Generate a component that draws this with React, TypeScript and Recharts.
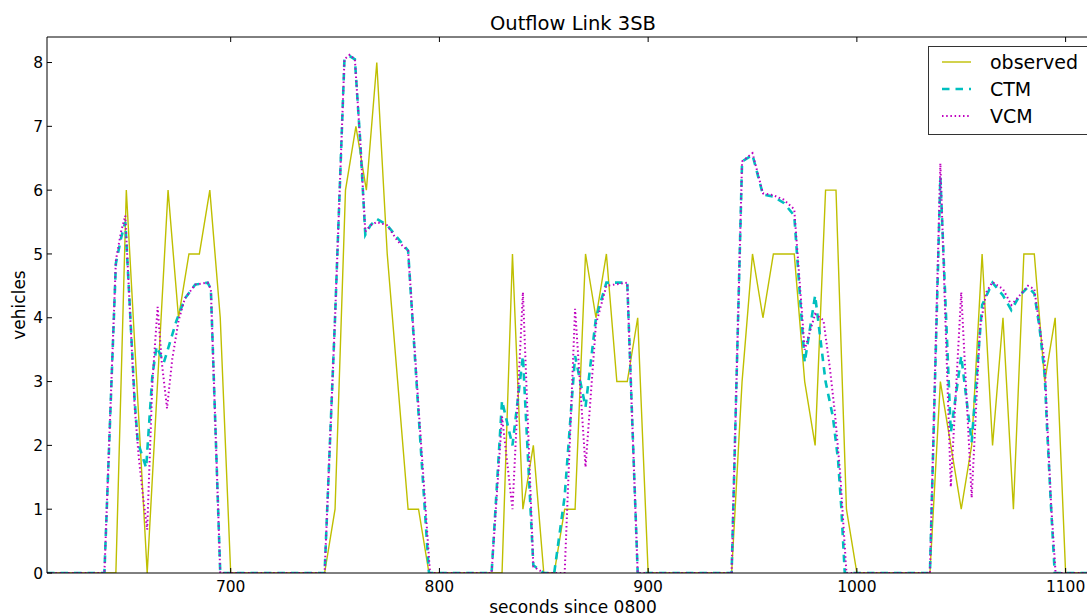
import React from 'react';
import { LineChart, Line, XAxis, YAxis } from 'recharts';

const FONT = '"DejaVu Sans", Verdana, sans-serif';
const X_DOMAIN = [612, 1116];
const xTicks = [700, 800, 900, 1000, 1100];
const yTicks = [0, 1, 2, 3, 4, 5, 6, 7, 8];

// observed counts, every 5 s
const observedT = [
  612, 645, 650, 655, 660, 665, 670, 675, 680, 685, 690, 695, 700,
  745, 750, 755, 760, 765, 770, 775, 780, 785, 790, 795,
  830, 835, 840, 845, 850, 855, 860, 865, 870, 875, 880, 885, 890, 895, 900,
  940, 945, 950, 955, 960, 965, 970, 975, 980, 985, 990, 995, 1000,
  1035, 1040, 1045, 1050, 1055, 1060, 1065, 1070, 1075, 1080, 1085, 1090, 1095, 1100,
  1116,
];
const observedV = [
  0, 0, 6, 3, 0, 3, 6, 4, 5, 5, 6, 4, 0,
  0, 1, 6, 7, 6, 8, 5, 3, 1, 1, 0,
  0, 5, 1, 2, 0, 0, 1, 1, 5, 4, 5, 3, 3, 4, 0,
  0, 3, 5, 4, 5, 5, 5, 3, 2, 6, 6, 1, 0,
  0, 3, 2, 1, 2, 5, 2, 4, 1, 5, 5, 3, 4, 0,
  0,
];

// CTM model
const ctmT = [
  612, 639.5, 645, 647.5, 649.5, 651, 654, 655.5, 658, 659.5, 662.5, 664.5, 668, 674, 678, 683, 689, 690.5, 695,
  745, 750, 754.5, 757, 759.5, 762, 764.5, 767, 770, 775, 780, 785, 790, 795,
  825, 830, 835, 840, 845, 850, 855, 860, 865, 870, 875, 880, 890, 895,
  940, 945, 950, 955, 960, 965, 970, 975, 980, 985, 988.5, 991, 992.5, 994.2,
  1035, 1040, 1045, 1050, 1055, 1060, 1065, 1070, 1074, 1078, 1082, 1085, 1087.5, 1090, 1091, 1093, 1094.8,
  1116,
];
const ctmV = [
  0, 0, 4.85, 5.25, 5.5, 4.6, 2.7, 2.05, 1.8, 1.65, 3.1, 3.55, 3.3, 3.95, 4.3, 4.52, 4.55, 4.45, 0,
  0, 4.0, 8.05, 8.1, 8.05, 6.8, 5.3, 5.45, 5.55, 5.45, 5.25, 5.05, 2.5, 0,
  0, 2.7, 2.0, 3.4, 0.12, 0, 0, 1.2, 3.4, 2.6, 4.0, 4.55, 4.55, 0,
  0, 6.45, 6.55, 5.93, 5.9, 5.8, 5.6, 3.3, 4.35, 3.0, 2.45, 1.77, 1.05, 0,
  0, 6.2, 2.2, 3.4, 2.05, 4.2, 4.55, 4.35, 4.12, 4.35, 4.48, 4.38, 3.85, 3.1, 2.35, 1.05, 0,
  0,
];

// VCM model
const vcmT = [
  612, 639.5, 645, 647.5, 649.5, 651, 654, 656, 658, 660, 662.5, 665, 667, 669.5, 672, 675, 678, 683, 689, 690.5, 695,
  745, 750, 754.5, 757, 759.5, 762, 764.5, 767, 770, 775, 780, 785, 790, 795.5,
  825, 830, 835, 840, 845, 850, 860, 865, 870, 875, 880, 890, 895,
  940, 945, 950, 955, 960, 965, 970, 975, 980, 984, 987, 989.5, 992, 993.5, 995,
  1035, 1040, 1045, 1050, 1055, 1059, 1062, 1065, 1070, 1074, 1078, 1082, 1085, 1090, 1091, 1093, 1095.2,
  1116,
];
const vcmV = [
  0, 0, 4.9, 5.35, 5.6, 4.6, 2.6, 1.8, 1.2, 0.68, 3.0, 4.17, 3.3, 2.58, 3.35, 3.95, 4.3, 4.52, 4.55, 4.45, 0,
  0, 4.0, 8.05, 8.12, 8.05, 6.8, 5.35, 5.45, 5.5, 5.45, 5.2, 5.05, 2.6, 0,
  0, 2.45, 1.0, 4.4, 0.1, 0, 0, 4.14, 1.66, 3.9, 4.5, 4.55, 0,
  0, 6.45, 6.58, 5.95, 5.92, 5.85, 5.7, 3.5, 4.06, 3.96, 3.23, 2.5, 1.56, 0.78, 0,
  0, 6.42, 1.35, 4.4, 1.18, 3.85, 4.4, 4.56, 4.45, 4.2, 4.35, 4.5, 4.45, 3.3, 2.5, 1.1, 0,
  0,
];

const zip = (ts: number[], vs: number[]) => ts.map((t, i) => ({ t, v: vs[i] }));

const observed = zip(observedT, observedV);
const ctm = zip(ctmT, ctmV);
const vcm = zip(vcmT, vcmV);

const OBS_COLOR = '#bfbf00';
const CTM_COLOR = '#00bfbf';
const VCM_COLOR = '#bf00bf';

const TICK_LEN = 5;

function BottomTick(props: any) {
  const { x, y, payload } = props;
  const axisY = y - 8;
  return (
    <g>
      <line x1={x} x2={x} y1={axisY} y2={axisY - TICK_LEN} stroke="#000" />
      <text x={x} y={y} dy="0.71em" textAnchor="middle" fontSize={15.5} fontFamily={FONT} fill="#000">
        {payload.value}
      </text>
    </g>
  );
}

function TopTick(props: any) {
  const { x, y } = props;
  return <line x1={x} x2={x} y1={y} y2={y + TICK_LEN} stroke="#000" />;
}

function LeftTick(props: any) {
  const { x, y, payload } = props;
  const axisX = x + 4;
  return (
    <g>
      <line x1={axisX} x2={axisX + TICK_LEN} y1={y} y2={y} stroke="#000" />
      <text x={x} y={y} dy="0.36em" textAnchor="end" fontSize={15.5} fontFamily={FONT} fill="#000">
        {payload.value}
      </text>
    </g>
  );
}

const legendRows = [
  { name: 'observed', color: OBS_COLOR, dash: undefined, width: 1.4 },
  { name: 'CTM', color: CTM_COLOR, dash: '7.5 6', width: 2.6 },
  { name: 'VCM', color: VCM_COLOR, dash: '1.5 2.7', width: 2 },
];

function LegendBox() {
  return (
    <div
      style={{
        position: 'absolute',
        left: 928,
        top: 46,
        width: 170,
        height: 89,
        border: '1px solid #333',
        boxSizing: 'border-box',
        background: '#fff',
      }}
    >
      <svg width={170} height={89} style={{ display: 'block' }}>
        {legendRows.map((r, i) => {
          const cy = 15 + i * 27;
          return (
            <g key={r.name}>
              <line x1={13} x2={42} y1={cy} y2={cy} stroke={r.color} strokeWidth={r.width} strokeDasharray={r.dash} />
              <text x={61} y={cy} dy="0.36em" fontSize={19} fontFamily={FONT} fill="#000">
                {r.name}
              </text>
            </g>
          );
        })}
      </svg>
    </div>
  );
}

export default function App() {
  return (
    <div
      style={{
        position: 'absolute',
        left: 0,
        top: 0,
        width: 1087,
        height: 616,
        overflow: 'hidden',
        background: '#fff',
      }}
    >
      <LineChart width={1100} height={616} margin={{ top: 36, right: 1, bottom: 0, left: 0 }}>
        <XAxis
          dataKey="t"
          type="number"
          domain={X_DOMAIN}
          allowDataOverflow
          ticks={xTicks}
          height={43}
          tickSize={0}
          tickMargin={8}
          tickLine={false}
          axisLine={{ stroke: '#000' }}
          tick={(p: any) => <BottomTick {...p} />}
        />
        <XAxis
          xAxisId="top"
          orientation="top"
          dataKey="t"
          type="number"
          domain={X_DOMAIN}
          allowDataOverflow
          ticks={xTicks}
          height={1}
          tickSize={0}
          tickMargin={0}
          tickLine={false}
          axisLine={{ stroke: '#000' }}
          tick={(p: any) => <TopTick {...p} />}
        />
        <YAxis
          type="number"
          domain={[0, 8.4]}
          allowDataOverflow
          ticks={yTicks}
          width={47}
          tickSize={0}
          tickMargin={4}
          tickLine={false}
          axisLine={{ stroke: '#000' }}
          tick={(p: any) => <LeftTick {...p} />}
        />
        <Line
          data={observed}
          dataKey="v"
          type="linear"
          stroke={OBS_COLOR}
          strokeWidth={1.4}
          dot={false}
          activeDot={false}
          isAnimationActive={false}
        />
        <Line
          data={ctm}
          dataKey="v"
          type="linear"
          stroke={CTM_COLOR}
          strokeWidth={2.6}
          strokeDasharray="7.5 6"
          dot={false}
          activeDot={false}
          isAnimationActive={false}
        />
        <Line
          data={vcm}
          dataKey="v"
          type="linear"
          stroke={VCM_COLOR}
          strokeWidth={2}
          strokeDasharray="1.5 2.7"
          dot={false}
          activeDot={false}
          isAnimationActive={false}
        />
      </LineChart>
      <svg
        width={1087}
        height={616}
        style={{ position: 'absolute', left: 0, top: 0, pointerEvents: 'none' }}
      >
        <text x={573} y={30} textAnchor="middle" fontSize={19.5} fontFamily={FONT} fill="#000">
          Outflow Link 3SB
        </text>
        <text x={573} y={613} textAnchor="middle" fontSize={17} fontFamily={FONT} fill="#000">
          seconds since 0800
        </text>
        <text
          transform="translate(25,305) rotate(-90)"
          textAnchor="middle"
          fontSize={17}
          fontFamily={FONT}
          fill="#000"
        >
          vehicles
        </text>
      </svg>
      <LegendBox />
    </div>
  );
}
